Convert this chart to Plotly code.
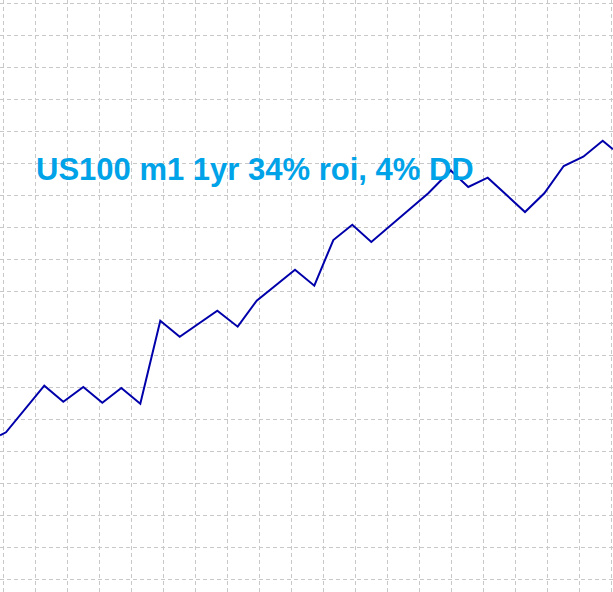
import plotly.graph_objects as go

# Equity curve (x: time step in grid units, y: balance in grid units)
step = [-0.103, 0.084, 1.281, 1.875, 2.5, 3.094, 3.688, 4.281, 4.906, 5.513,
        6.688, 7.325, 7.919, 9.116, 9.719, 10.313, 10.906, 11.5, 13.281, 13.981,
        14.531, 15.138, 16.303, 16.906, 17.513, 18.125, 18.731, 19.05]
balance = [4.5, 4.594, 6.05, 5.55, 6.009, 5.519, 5.978, 5.488, 8.081, 7.581,
           8.394, 7.894, 8.706, 9.675, 9.175, 10.603, 11.081, 10.541, 12.063, 12.775,
           12.259, 12.55, 11.478, 12.063, 12.916, 13.206, 13.706, 13.438]
title_text = "US100 m1 1yr 34% roi, 4% DD"

fig = go.Figure()
fig.add_trace(go.Scatter(x=step, y=balance, mode="lines",
                         line=dict(color="#0000AA", width=2),
                         hoverinfo="skip", showlegend=False))

grid = dict(showgrid=True, gridcolor="#C8C8C8", gridwidth=1, griddash="4px,3px",
            tick0=0, dtick=1, showticklabels=False, ticks="", zeroline=False,
            showline=False, fixedrange=True)
fig.update_xaxes(range=[-3.3 / 32, (613 - 3.3) / 32], **grid)
fig.update_yaxes(range=[(579.3 - 592) / 32, 579.3 / 32], **grid)

fig.add_annotation(text="<b>" + title_text + "</b>", xref="paper", yref="paper",
                   x=34 / 613, y=1 - 169 / 592, xanchor="left", yanchor="middle",
                   showarrow=False,
                   font=dict(family="Arial, Liberation Sans, sans-serif", size=31, color="#00A2E8"))

fig.update_layout(width=613, height=592, margin=dict(l=0, r=0, t=0, b=0),
                  paper_bgcolor="white", plot_bgcolor="white", hovermode=False)

fig.write_html("out.html", config={"displayModeBar": False, "staticPlot": True},
               post_script="document.body.style.margin='0';document.body.style.overflow='hidden';")
